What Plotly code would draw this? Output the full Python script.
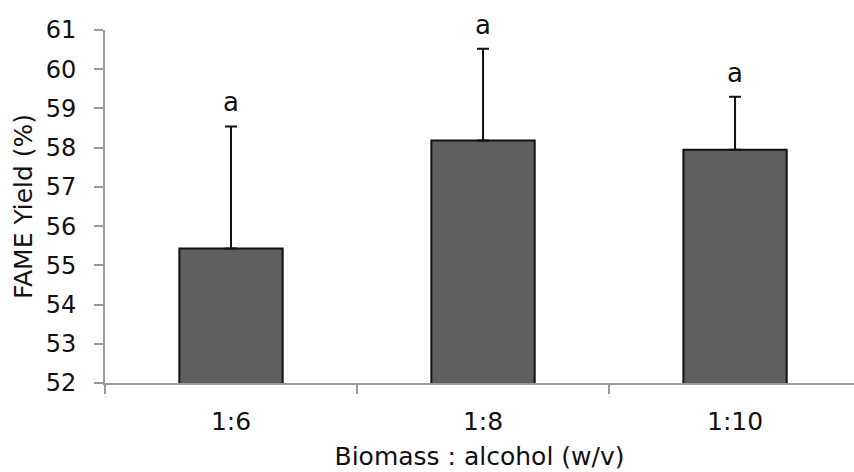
import plotly.graph_objects as go

categories = ["1:6", "1:8", "1:10"]
yield_values = [55.43, 58.18, 57.95]
yield_errors = [3.11, 2.34, 1.35]
letters = ["a", "a", "a"]
y_ticks = list(range(52, 62))

FONT = "DejaVu Sans"

fig = go.Figure()
fig.add_trace(go.Bar(
    x=categories,
    y=yield_values,
    base=0,
    width=0.41,
    marker=dict(color="#5f5f5f", line=dict(color="#111111", width=2)),
    error_y=dict(type="data", array=yield_errors, symmetric=False,
                 arrayminus=[0, 0, 0], color="#111111", thickness=2, width=6),
    showlegend=False,
))

for c, v, e, t in zip(categories, yield_values, yield_errors, letters):
    fig.add_annotation(x=c, y=v + e, text=t, showarrow=False,
                       yanchor="middle", yshift=24,
                       font=dict(family=FONT, size=26, color="#111111"))

fig.update_layout(
    width=854, height=472,
    margin=dict(l=105, r=0, t=29.5, b=89, autoexpand=False),
    paper_bgcolor="white", plot_bgcolor="white",
    font=dict(family=FONT, color="#111111"),
    bargap=0.59,
)
fig.update_xaxes(
    range=[-0.5, 2.472],
    showline=True, linecolor="#9a9a9a", linewidth=2,
    ticks="outside", tickson="boundaries", ticklen=9, tickwidth=2, tickcolor="#9a9a9a",
    tickfont=dict(family=FONT, size=25, color="#111111"),
    ticklabelstandoff=15,
    showgrid=False, zeroline=False,
    title=dict(text="Biomass : alcohol (w/v)", font=dict(family=FONT, size=25, color="#111111"), standoff=12),
)
fig.update_yaxes(
    range=[52, 61], tickvals=y_ticks,
    showline=True, linecolor="#9a9a9a", linewidth=2,
    ticks="outside", ticklen=9, tickwidth=2, tickcolor="#9a9a9a",
    tickfont=dict(family=FONT, size=24, color="#111111"),
    ticklabelstandoff=13,
    showgrid=False, zeroline=False,
    title=dict(text="FAME Yield (%)", font=dict(family=FONT, size=25, color="#111111"), standoff=6),
)

fig.write_html("out.html")
